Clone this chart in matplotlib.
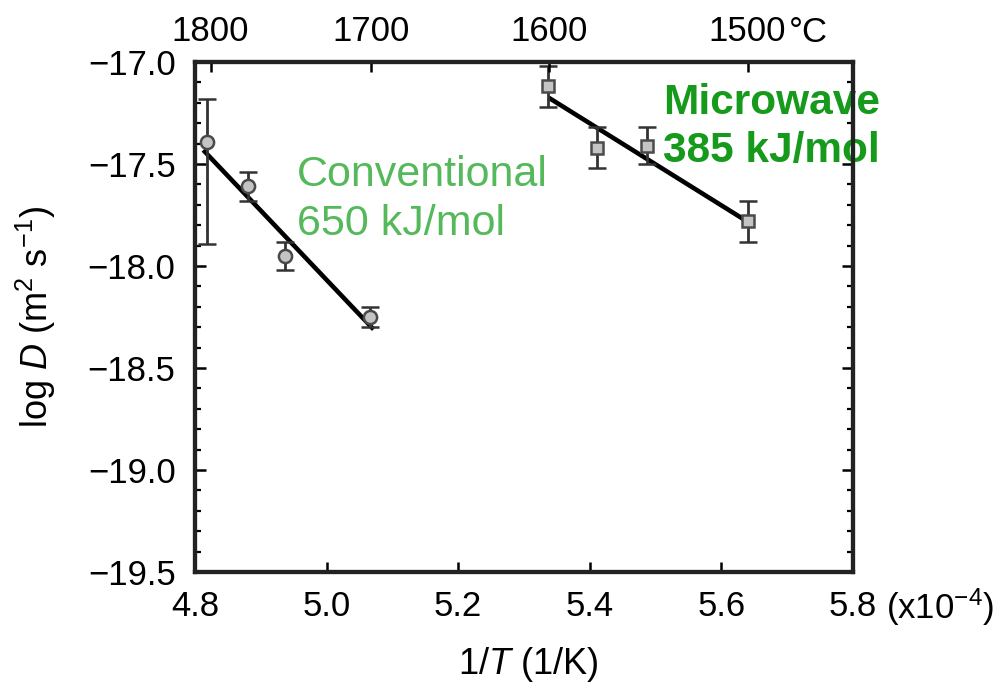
import numpy as np
import matplotlib
matplotlib.use("Agg")
import matplotlib.pyplot as plt
from matplotlib.ticker import MultipleLocator

plt.rcParams["mathtext.fontset"] = "custom"
plt.rcParams["mathtext.rm"] = "Liberation Sans"
plt.rcParams["mathtext.it"] = "Liberation Sans:italic"
plt.rcParams["mathtext.bf"] = "Liberation Sans:bold"
plt.rcParams["font.family"] = ["Liberation Sans", "DejaVu Sans"]

# Diffusion data: x in units of 1e-4 1/K, y = log10 D (m^2/s)
conv_x = [4.818, 4.881, 4.937, 5.066]
conv_y = [-17.39, -17.61, -17.95, -18.25]
conv_err_lo = [0.50, 0.07, 0.07, 0.05]
conv_err_hi = [0.21, 0.07, 0.07, 0.05]

mw_x = [5.337, 5.411, 5.487, 5.641]
mw_y = [-17.12, -17.42, -17.41, -17.78]
mw_err = [0.10, 0.10, 0.09, 0.10]

# Activation energies (kJ/mol) and Arrhenius fit-line anchors
ea_conv = 650
ea_mw = 385
conv_fit_x = [4.815, 5.069]
conv_fit_y0 = -17.44
mw_fit_x = [5.340, 5.633]
mw_fit_y0 = -17.18

x_ticks = [4.8, 5.0, 5.2, 5.4, 5.6, 5.8]
y_ticks = [-17.0, -17.5, -18.0, -18.5, -19.0, -19.5]
temps_c = [1800, 1700, 1600, 1500]

R = 8.314
TICK_FS = 25


def arrhenius_line(xs, y0, ea):
    # slope of log10 D versus 1/T, with 1/T expressed in 1e-4 1/K
    slope = -ea * 1e3 / (R * np.log(10)) * 1e-4
    xs = np.asarray(xs)
    return xs, y0 + slope * (xs - xs[0])


fig = plt.figure(figsize=(10.03, 6.85), dpi=100)
ax = fig.add_axes([195 / 1003, 1 - 572 / 685, (853 - 195) / 1003, (572 - 62) / 685])

# fit lines
lx, ly = arrhenius_line(conv_fit_x, conv_fit_y0, ea_conv)
ax.plot(lx, ly, color="black", lw=3.3, zorder=3)
lx, ly = arrhenius_line(mw_fit_x, mw_fit_y0, ea_mw)
ax.plot(lx, ly, color="black", lw=3.3, zorder=3)

# measured points with error bars
ax.errorbar(conv_x, conv_y, yerr=[conv_err_lo, conv_err_hi], fmt="o",
            ms=9.5, mfc="#c4c4c4", mec="#4a4a4a", mew=1.8,
            ecolor="#333333", elinewidth=2.0, capsize=6.5, capthick=2.0, zorder=4)
ax.errorbar(mw_x, mw_y, yerr=mw_err, fmt="s",
            ms=9, mfc="#c4c4c4", mec="#4a4a4a", mew=1.8,
            ecolor="#333333", elinewidth=2.0, capsize=6.5, capthick=2.0, zorder=4)

ax.set_xlim(4.8, 5.8)
ax.set_ylim(-19.5, -17.0)

ax.set_xticks(x_ticks)
ax.set_xticklabels([f"{v:.1f}" for v in x_ticks], fontsize=TICK_FS)
ax.set_yticks(y_ticks)
ax.set_yticklabels([f"\u2212{abs(v):.1f}" for v in y_ticks], fontsize=TICK_FS)
ax.yaxis.set_minor_locator(MultipleLocator(0.1))

ax.tick_params(axis="x", which="major", direction="in", length=7, width=1.8,
               pad=13, top=False, bottom=True)
ax.tick_params(axis="y", which="major", direction="in", length=8, width=1.8,
               pad=14, left=True, right=True)
ax.tick_params(axis="y", which="minor", direction="in", length=4, width=1.6,
               left=True, right=True)

for sp in ax.spines.values():
    sp.set_linewidth(3.0)
    sp.set_color("#222222")

# top axis in degrees Celsius
ax2 = ax.twiny()
ax2.set_xlim(ax.get_xlim())
ax2.set_xticks([1e4 / (t + 273.15) for t in temps_c])
ax2.set_xticklabels([str(t) for t in temps_c], fontsize=TICK_FS)
ax2.tick_params(axis="x", direction="in", length=7, width=1.8, pad=10)
for sp in ax2.spines.values():
    sp.set_linewidth(3.0)
    sp.set_color("#222222")

fig.text(789 / 1003, 1 - 33 / 685, "\u00b0C", fontsize=TICK_FS,
         ha="left", va="center")
fig.text(886 / 1003, 1 - 607 / 685, r"(x10$^{\mathregular{-4}}$)",
         fontsize=TICK_FS, ha="left", va="center")

# axis titles
fig.text(528 / 1003, 1 - 664 / 685, r"1/$\mathit{T}$ (1/K)",
         fontsize=26, ha="center", va="center")
fig.text(36 / 1003, 1 - 317 / 685,
         r"log $\mathit{D}$ (m$^{\mathregular{2}}$ s$^{\mathregular{-1}}$)",
         fontsize=26, rotation=90, ha="center", va="center")

# annotations (y is the baseline of the second line)
ax.text(4.955, -17.85, f"Conventional\n{ea_conv} kJ/mol", fontsize=31,
        color="#55b85a", ha="left", va="baseline", linespacing=1.3, zorder=5)
ax.text(5.511, -17.49, f"Microwave\n{ea_mw} kJ/mol", fontsize=30.5,
        fontweight="bold", color="#169a1c", ha="left", va="baseline",
        linespacing=1.25, zorder=5, clip_on=False)

fig.savefig("out.png", dpi=100)
